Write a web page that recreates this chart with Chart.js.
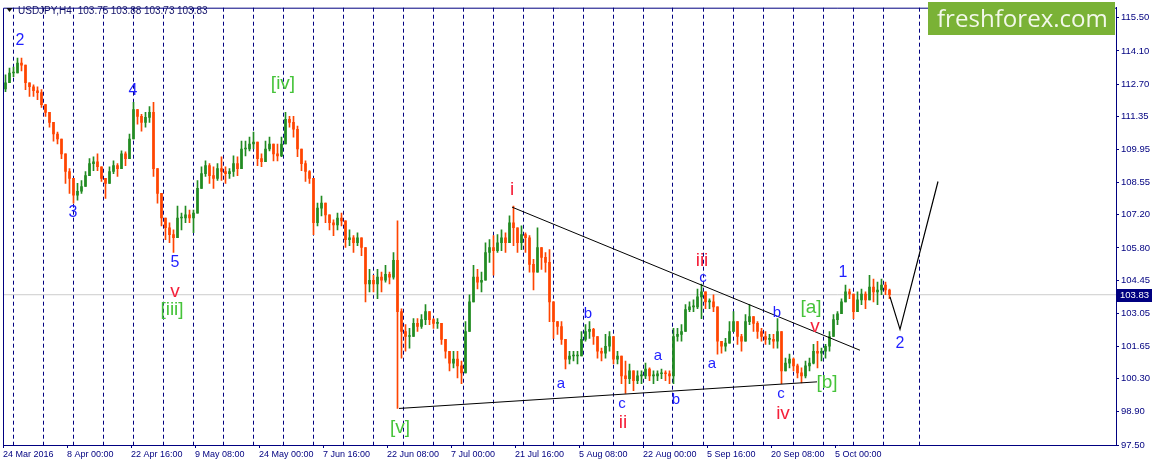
<!DOCTYPE html>
<html><head><meta charset="utf-8">
<script src="https://cdn.jsdelivr.net/npm/chart.js@4.4.1/dist/chart.umd.min.js"></script>
<style>html,body{margin:0;padding:0;background:#fff;overflow:hidden}#wrap{width:1155px;height:468px;position:relative}canvas{display:block}</style>
</head><body><div id="wrap"><canvas id="c" width="1155" height="468"></canvas></div>
<script>
// ---------------- DATA ----------------
const symbolTitle = 'USDJPY,H4';
const titleOHLC = [103.75, 103.88, 103.73, 103.83];
const timeLabels = ['24 Mar 2016','8 Apr 00:00','22 Apr 16:00','9 May 08:00','24 May 00:00','7 Jun 16:00','22 Jun 08:00','7 Jul 00:00','21 Jul 16:00','5 Aug 08:00','22 Aug 00:00','5 Sep 16:00','20 Sep 08:00','5 Oct 00:00'];
const barsPerLabel = 64;      // H4 bars between time labels
const barsPerCandle = 4;      // each drawn candle groups 4 H4 bars
const totalBars = 1113;
const priceTicks = [115.50,114.10,112.70,111.35,109.95,108.55,107.20,105.80,104.45,103.05,101.65,100.30,98.90,97.50];
const firstOpen = 112.50;
const highs = [
113.09,113.38,113.42,113.80,113.80,113.42,112.76,112.67,112.59,112.47,
111.84,111.51,110.89,110.68,110.30,109.64,109.14,108.64,108.52,108.64,
109.02,109.56,109.64,109.76,109.06,108.73,109.22,109.47,109.35,109.89,
109.85,110.60,111.93,111.51,111.43,111.51,111.76,111.93,108.81,107.69,
106.98,106.86,106.56,107.56,107.27,107.56,107.40,107.40,108.64,109.22,
109.47,109.35,109.22,109.35,109.64,109.22,109.14,109.68,109.64,110.30,
110.30,110.47,110.68,109.97,109.76,110.30,110.47,110.06,110.18,110.47,
111.51,111.34,111.34,110.93,109.76,109.47,109.06,108.64,107.69,107.98,
107.56,107.19,106.98,107.27,107.27,106.56,106.56,106.32,106.44,106.15,
105.61,104.90,104.65,104.90,104.78,105.07,104.78,105.61,106.94,103.24,
102.57,102.41,102.82,102.82,102.99,103.41,102.99,102.82,102.82,102.57,
101.87,101.45,101.45,101.45,101.04,102.70,103.83,105.07,104.90,104.78,
106.02,106.15,106.32,106.36,106.56,106.44,107.15,107.56,106.32,106.73,
106.44,106.32,105.32,106.65,105.73,105.61,105.73,103.53,102.70,102.70,
101.45,101.45,101.45,101.45,102.28,102.57,102.70,102.41,101.99,101.58,
102.16,102.28,101.58,101.45,101.16,101.04,100.91,100.62,100.62,100.62,
100.95,100.75,100.62,100.62,100.70,100.62,100.62,102.41,102.41,102.57,
103.41,103.53,103.61,104.07,104.28,103.83,103.66,103.83,102.28,101.87,
101.99,102.70,103.12,102.41,102.16,102.99,103.41,102.82,102.70,102.41,
102.28,102.16,102.16,102.82,101.74,101.16,101.33,101.16,100.91,100.75,
101.04,101.16,101.74,101.87,101.58,101.74,102.28,102.99,103.12,103.66,
104.24,104.07,103.66,103.95,104.07,103.95,104.65,104.49,104.36,104.49,
104.36,104.07];
const lows = [
112.38,112.88,113.01,113.30,113.26,112.47,112.18,112.18,112.05,111.72,
111.34,110.89,110.30,110.18,109.56,108.52,108.10,107.69,107.81,108.10,
108.39,109.02,109.06,109.06,108.60,107.89,108.64,108.93,108.81,109.35,
109.27,109.89,111.01,111.01,110.72,110.89,111.09,108.81,107.69,106.73,
106.15,106.02,105.61,106.32,106.56,106.86,106.86,106.44,107.56,108.39,
108.81,108.52,108.31,108.64,108.64,108.52,108.73,108.81,108.85,109.35,
109.68,109.89,109.97,109.27,109.22,109.64,109.89,109.47,109.47,109.64,
110.72,110.89,110.47,109.64,109.06,108.60,108.52,106.36,106.73,107.15,
106.86,106.56,106.32,106.56,106.73,105.82,105.90,105.61,105.90,105.48,
103.53,103.95,103.95,103.66,103.95,104.36,104.28,104.49,99.04,101.16,
101.45,101.58,102.16,102.28,102.41,102.57,102.57,102.41,102.41,101.74,
101.16,100.62,100.75,100.33,100.08,100.62,102.57,103.83,104.07,103.95,
104.90,105.19,104.65,105.61,105.69,105.61,106.02,105.90,105.61,105.73,
105.61,104.78,104.03,104.90,104.90,104.78,102.70,101.99,102.16,101.74,
100.70,100.91,101.04,100.91,101.45,101.87,101.99,101.74,101.16,101.04,
101.16,101.45,100.91,100.91,100.08,99.67,100.08,99.79,100.08,100.08,
100.29,100.21,100.08,100.21,100.29,100.21,100.08,100.08,101.87,101.87,
102.82,103.12,103.12,103.24,102.82,103.24,103.24,103.12,101.33,101.37,
101.45,101.87,102.41,101.74,101.45,101.99,102.57,102.28,101.99,101.87,
101.74,101.74,101.58,101.58,100.08,100.62,100.75,100.62,100.33,100.12,
100.33,100.62,100.91,100.75,101.04,101.16,101.45,102.28,102.57,103.12,
103.53,103.66,102.82,103.24,103.41,103.24,103.66,103.53,103.41,103.83,
103.83,103.66];
const closes = [
112.76,113.17,113.17,113.59,113.50,112.76,112.59,112.42,112.34,111.84,
111.51,111.09,110.60,110.39,109.76,109.02,108.73,108.02,108.19,108.39,
108.85,109.35,109.43,109.22,108.73,108.52,109.02,109.27,109.14,109.76,
109.56,110.39,111.63,111.34,111.09,111.30,111.51,109.14,108.10,107.06,
106.65,106.36,106.23,107.06,107.06,107.19,107.06,107.27,108.31,108.93,
109.27,108.85,108.73,109.14,109.02,108.93,109.02,109.35,109.14,109.97,
109.97,110.18,110.26,109.56,109.43,109.97,110.18,109.76,109.68,110.18,
111.22,111.09,110.80,109.97,109.35,109.02,108.73,106.86,107.48,107.69,
107.19,106.86,106.77,107.06,106.94,106.15,106.23,106.02,106.23,105.82,
104.28,104.44,104.28,104.57,104.44,104.69,104.57,105.28,103.12,102.28,
102.07,102.07,102.62,102.49,102.78,103.12,102.78,102.62,102.62,101.95,
101.45,100.95,101.12,100.83,100.54,102.28,103.53,104.57,104.36,104.44,
105.61,105.82,105.69,106.02,106.23,106.02,106.86,106.65,106.02,106.36,
106.23,105.11,104.78,105.82,105.40,105.19,103.53,102.70,102.49,101.95,
101.12,101.25,101.25,101.25,101.95,102.28,102.37,102.07,101.45,101.37,
101.66,102.07,101.12,101.25,100.41,100.29,100.62,100.21,100.41,100.41,
100.70,100.41,100.41,100.50,100.54,100.50,100.41,102.07,102.16,102.28,
103.20,103.32,103.32,103.74,103.95,103.53,103.53,103.32,101.87,101.66,
101.79,102.28,102.70,102.07,101.87,102.70,102.91,102.62,102.28,102.07,
101.95,101.95,101.87,102.28,100.62,100.95,101.12,100.83,100.54,100.41,
100.83,100.95,101.45,101.37,101.45,101.66,102.07,102.78,103.03,103.53,
103.95,103.86,103.12,103.61,103.86,103.61,104.15,103.95,104.03,104.24,
104.03,103.83];
// trend lines (bar index, price)
const triangleUpper = [{x:509,y:107.52},{x:857,y:101.49}];
const triangleLower = [{x:396,y:99.04},{x:814,y:100.16}];
const projection = [{x:887,y:103.74},{x:897,y:102.37},{x:935,y:108.60}];
// wave labels: text, bar index, price, degree
const waveLabels = [
 ['2',17,114.54,'num'],['3',70,107.27,'num'],['4',130,112.42,'num'],['5',172,105.19,'num'],
 ['v',172,103.95,'roman'],['[iii]',169,103.20,'bracket'],['[iv]',280,112.72,'bracket'],['[v]',397,98.21,'bracket'],
 ['i',509,108.23,'roman'],['a',558,100.08,'abc'],['b',585,103.03,'abc'],['c',619,99.25,'abc'],['ii',620,98.42,'roman'],
 ['a',655,101.25,'abc'],['b',673,99.42,'abc'],['iii',699,105.28,'roman'],['c',700,104.53,'abc'],['a',709,100.91,'abc'],
 ['b',774,103.07,'abc'],['c',778,99.67,'abc'],['iv',780,98.83,'roman'],['v',812,102.49,'roman'],
 ['[a]',808,103.28,'bracket'],['[b]',824,100.12,'bracket'],['1',840,104.78,'num'],['2',897,101.78,'num']
];
const logoText = 'freshforex.com';

// ---------------- STYLE / BUILD ----------------
const UP = '#228b22', DN = '#ff4500', NAVY = '#000080';
const labelStyles = {
  num:     {color:'#1f1fff', font:'16px "Liberation Sans", Arial, sans-serif'},
  abc:     {color:'#1f1fff', font:'15px "Liberation Sans", Arial, sans-serif'},
  roman:   {color:'#f5203a', font:'19px "Liberation Sans", Arial, sans-serif'},
  bracket: {color:'#46c33a', font:'19px "Liberation Sans", Arial, sans-serif'}
};
const opens = closes.map((c,i) => i === 0 ? firstOpen : closes[i-1]);
const xs = closes.map((_,i) => i*barsPerCandle + 2.5);
const colors = closes.map((c,i) => c >= opens[i] ? UP : DN);
const wickData = xs.map((x,i) => ({x, y:[Math.min(lows[i],opens[i],closes[i]), Math.max(highs[i],opens[i],closes[i])]}));
const bodyData = xs.map((x,i) => ({x, y:[opens[i], closes[i]]}));
const lastPrice = closes[closes.length-1];

const decor = {
  id:'decor',
  afterDraw(chart){
    const c = chart.ctx, a = chart.chartArea, sx = chart.scales.x, sy = chart.scales.y;
    c.save();
    c.strokeStyle = NAVY; c.lineWidth = 1;
    c.beginPath(); c.moveTo(a.left+0.5, a.bottom); c.lineTo(a.left+0.5, a.top+0.5); c.lineTo(a.right, a.top+0.5); c.stroke();
    c.textAlign = 'center'; c.textBaseline = 'middle';
    waveLabels.forEach(([t,b,p,d]) => {
      const st = labelStyles[d]; c.font = st.font; c.fillStyle = st.color;
      c.fillText(t, sx.getPixelForValue(b), sy.getPixelForValue(p));
    });
    const py = Math.round(sy.getPixelForValue(lastPrice));
    c.fillStyle = NAVY; c.fillRect(a.right+1, py-6, 35, 13);
    c.fillStyle = '#fff'; c.font = '9.5px "Liberation Sans", Arial, sans-serif';
    c.textAlign = 'left'; c.fillText(lastPrice.toFixed(2), a.right+4, py+0.5);
    c.fillStyle = '#111'; c.beginPath(); c.moveTo(6.5,8); c.lineTo(12.5,8); c.lineTo(9.5,12); c.closePath(); c.fill();
    c.fillStyle = '#14146a'; c.font = '10px "Liberation Sans", Arial, sans-serif'; c.textBaseline = 'alphabetic';
    let tx = 18; c.fillText(symbolTitle, tx, 14); tx += c.measureText(symbolTitle).width + 6;
    titleOHLC.forEach(v => { const s = v.toFixed(2); c.fillText(s, tx, 14); tx += c.measureText(s).width + 2.5; });
    c.fillStyle = '#7ab236'; c.fillRect(928, 2, 187, 33);
    c.font = '26px "Open Sans", sans-serif';
    const w = c.measureText(logoText).width, fs = 26*171/w;
    c.font = fs.toFixed(2)+'px "Open Sans", sans-serif';
    c.fillStyle = '#f3f8ea'; c.textAlign = 'left'; c.textBaseline = 'alphabetic';
    c.fillText(logoText, 937, 27);
    c.restore();
  }
};

const fontAxisX = {family:'"Liberation Sans", Arial, sans-serif', size:9};
const fontAxisY = {family:'"Liberation Sans", Arial, sans-serif', size:9.5};

new Chart(document.getElementById('c'), {
  type:'bar',
  data:{ datasets:[
    {type:'line', data:[{x:0,y:lastPrice},{x:totalBars,y:lastPrice}], borderColor:'#cccccc', borderWidth:1, pointRadius:0, order:10},
    {type:'bar', data:wickData, backgroundColor:colors, barThickness:1, grouped:false, order:6, borderWidth:0},
    {type:'bar', data:bodyData, backgroundColor:colors, barThickness:2, grouped:false, order:5, borderWidth:0, minBarLength:1},
    {type:'line', data:triangleUpper, borderColor:'#000', borderWidth:1, pointRadius:0, order:1},
    {type:'line', data:triangleLower, borderColor:'#000', borderWidth:1, pointRadius:0, order:1},
    {type:'line', data:projection, borderColor:'#000', borderWidth:1.2, pointRadius:0, order:1, tension:0}
  ]},
  options:{
    responsive:false, animation:false, devicePixelRatio:1,
    layout:{padding:{left:3, top:2, right:0, bottom:0}},
    plugins:{legend:{display:false}, tooltip:{enabled:false}},
    scales:{
      x:{type:'linear', position:'bottom', min:0, max:totalBars, offset:false,
        afterBuildTicks:s => { s.ticks = timeLabels.map((l,k) => ({value:k*barsPerLabel})); },
        afterFit:s => { s.height = 23; },
        ticks:{autoSkip:false, maxRotation:0, minRotation:0, align:'start', padding:1, color:NAVY, font:fontAxisX,
          callback:(v,idx) => timeLabels[idx]},
        grid:{display:true, drawOnChartArea:false, drawTicks:true, tickLength:3, color:NAVY, offset:false},
        border:{display:true, color:NAVY, width:1}},
      xg:{type:'linear', position:'bottom', min:0, max:totalBars, offset:false,
        afterBuildTicks:s => { const t=[]; for(let k=0;k<30;k++) t.push({value:10+30*k}); t.push({value:916}); s.ticks=t; },
        afterFit:s => { s.height = 0; },
        ticks:{display:false},
        grid:{display:true, drawOnChartArea:true, drawTicks:false, color:NAVY, lineWidth:1, offset:false},
        border:{display:false, dash:[4,3]}},
      y:{type:'linear', position:'right', min:97.5, max:115.92,
        afterBuildTicks:s => { s.ticks = priceTicks.map(v => ({value:v})); },
        afterFit:s => { s.width = 39; },
        ticks:{autoSkip:false, color:NAVY, font:fontAxisY, padding:2, callback:v => Number(v).toFixed(2)},
        grid:{display:true, drawOnChartArea:false, drawTicks:true, tickLength:3, color:NAVY},
        border:{display:true, color:NAVY, width:1}}
    }
  },
  plugins:[decor]
});
</script>
</body></html>
